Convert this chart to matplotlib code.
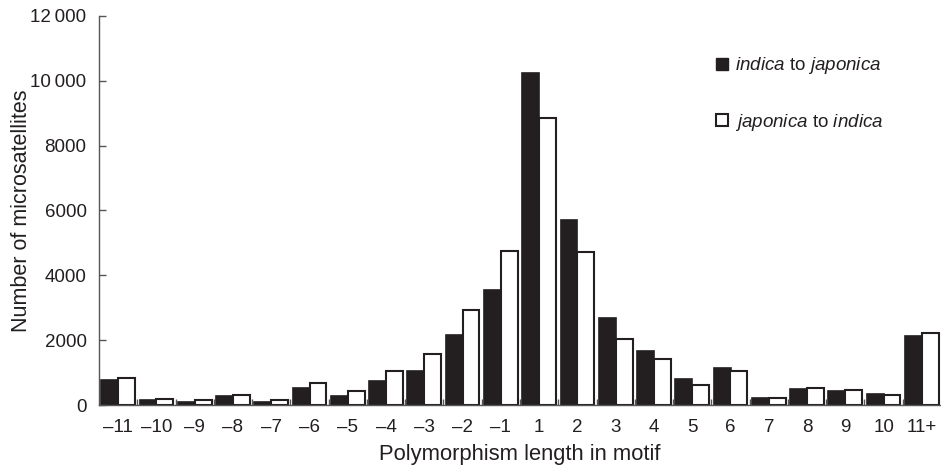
import numpy as np
import matplotlib.pyplot as plt
from matplotlib.patches import Patch
from matplotlib.ticker import FixedLocator

plt.rcParams['font.family'] = ['Liberation Sans', 'DejaVu Sans']
plt.rcParams['mathtext.fontset'] = 'custom'
plt.rcParams['mathtext.rm'] = 'Liberation Sans'
plt.rcParams['mathtext.it'] = 'Liberation Sans:italic'

categories = ['\u201311', '\u201310', '\u20139', '\u20138', '\u20137', '\u20136', '\u20135', '\u20134',
              '\u20133', '\u20132', '\u20131', '1', '2', '3', '4', '5', '6', '7', '8', '9', '10', '11+']
indica_to_japonica = [780, 150, 100, 270, 100, 530, 270, 750, 1060, 2150, 3560, 10230,
                      5710, 2680, 1680, 790, 1150, 215, 480, 430, 330, 2120]
japonica_to_indica = [830, 200, 140, 320, 140, 680, 420, 1050, 1560, 2930, 4760, 8860,
                      4710, 2050, 1410, 620, 1050, 210, 535, 470, 310, 2210]
yticks = [0, 2000, 4000, 6000, 8000, 10000, 12000]
ytick_labels = ['0', '2000', '4000', '6000', '8000', '10\u2009000', '12\u2009000']

ink = '#231f20'
x = np.arange(len(categories))
w = 0.44

fig = plt.figure(figsize=(9.41, 4.69), dpi=100)
ax = fig.add_axes([99 / 941, 1 - 405 / 469, 1 - 99 / 941, 389 / 469])

ax.bar(x - w / 2, indica_to_japonica, w, color=ink, edgecolor=ink, linewidth=1.2)
ax.bar(x + w / 2, japonica_to_indica, w, color='white', edgecolor=ink, linewidth=1.5)

ax.set_xlim(-0.5, len(categories) - 0.5)
ax.set_ylim(0, 12000)
ax.set_xticks(x)
ax.set_xticklabels(categories)
ax.xaxis.set_minor_locator(FixedLocator(x[:-1] + 0.5))
ax.set_yticks(yticks)
ax.set_yticklabels(ytick_labels)

ax.tick_params(axis='x', which='major', length=0, pad=10, labelsize=13.5, labelcolor=ink)
ax.tick_params(axis='x', which='minor', direction='in', length=4, width=1, color='#555555')
ax.tick_params(axis='y', direction='in', length=5, width=1, color='#555555', pad=9,
               labelsize=13.5, labelcolor=ink)

for s in ['top', 'right']:
    ax.spines[s].set_visible(False)
for s in ['left', 'bottom']:
    ax.spines[s].set_color('#555555')
    ax.spines[s].set_linewidth(1)

ax.set_xlabel('Polymorphism length in motif', fontsize=15.8, color=ink, labelpad=6)
ax.set_ylabel('Number of microsatellites', fontsize=15.5, color=ink)
ax.yaxis.set_label_coords(-0.0796, 0.5)

handles = [Patch(facecolor=ink, edgecolor=ink),
           Patch(facecolor='white', edgecolor=ink, linewidth=1.5)]
labels = [r'$\it{indica}$ to $\it{japonica}$', r'$\it{japonica}$ to $\it{indica}$']
fig.legend(handles, labels, loc='upper left', bbox_to_anchor=(707 / 941, 1 - 46 / 469),
           frameon=False, fontsize=13.5, handlelength=0.6, handleheight=0.6,
           handletextpad=0.4, labelspacing=1.9, borderpad=0, labelcolor=ink)

fig.savefig('out.png', dpi=100)
